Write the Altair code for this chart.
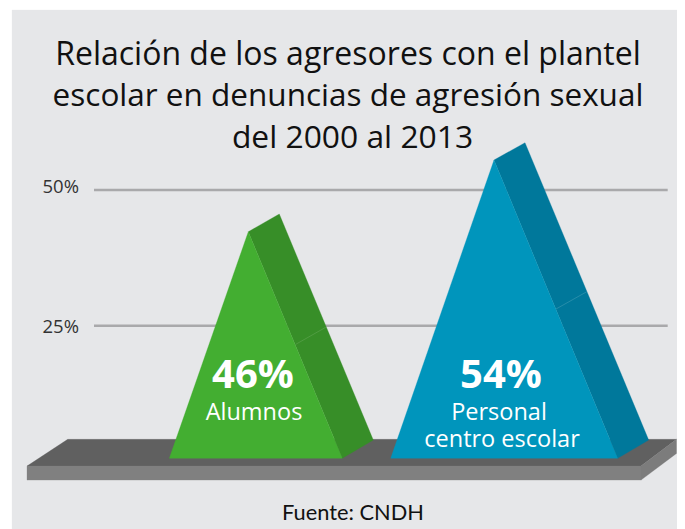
import altair as alt
import pandas as pd

# Scale units: x = page pixel position, y = percent
X_DOMAIN = [8, 677]
Y_DOMAIN = [-12.44, 83.53]

BG = "#e6e7e9"
panel_x = [12, 677]
panel_y = [-12.44, 83.16]

grid_values = [50, 25]
grid_label_y = [49.46, 23.65]
grid_x = [94, 667.7]

platform_top_x = [27, 67.7, 676.5, 641]
platform_top_y = [-0.85, 4.07, 4.07, -0.85]
platform_front_x = [27, 641, 641, 27]
platform_front_y = [-0.85, -0.85, -3.43, -3.43]
platform_side_x = [641, 676.5, 676.5, 641]
platform_side_y = [-0.85, 4.07, 1.49, -3.43]

green_front_x = [169.3, 248.3, 342.3]
green_front_y = [0.57, 42.32, 0.57]
green_side_x = [248.3, 279.3, 373.3, 342.3]
green_side_y = [42.32, 45.58, 3.94, 0.57]
green_seam_x = [295.7, 325.7]
green_seam_y = [21.57, 24.71]

blue_front_x = [390.7, 494, 617.7]
blue_front_y = [0.57, 55.53, 0.57]
blue_side_x = [494, 525, 648.7, 617.7]
blue_side_y = [55.53, 58.71, 3.94, 0.57]
blue_seam_x = [556, 586.7]
blue_seam_y = [28.08, 31.26]

title_lines = ["Relación de los agresores con el plantel",
               "escolar en denuncias de agresión sexual",
               "del 2000 al 2013"]
title_y = [73.03, 65.47, 57.74]
title_x = [348, 348, 352.5]
title_size = [32, 31.5, 31.8]

x_enc = lambda: alt.X("x:Q", scale=alt.Scale(domain=X_DOMAIN), axis=None)
y_enc = lambda: alt.Y("y:Q", scale=alt.Scale(domain=Y_DOMAIN), axis=None)


def shape(xs, ys, fill):
    df = pd.DataFrame({"x": xs, "y": ys, "i": range(len(xs))})
    return alt.Chart(df).mark_line(fill=fill, stroke=fill, strokeWidth=0.3, interpolate="linear-closed").encode(
        x=x_enc(), y=y_enc(), order="i:Q")


def line(xs, ys, color, width):
    df = pd.DataFrame({"x": xs, "y": ys, "i": range(len(xs))})
    return alt.Chart(df).mark_line(stroke=color, strokeWidth=width).encode(
        x=x_enc(), y=y_enc(), order="i:Q")


def label(x, y, text, size, color="#ffffff", weight="normal", font="Open Sans", align="center"):
    df = pd.DataFrame({"x": [x], "y": [y], "t": [text]})
    return alt.Chart(df).mark_text(fontSize=size, color=color, fontWeight=weight, font=font, align=align,
                                   baseline="alphabetic").encode(x=x_enc(), y=y_enc(), text="t:N")


panel = shape([panel_x[0], panel_x[1], panel_x[1], panel_x[0]],
              [panel_y[1], panel_y[1], panel_y[0], panel_y[0]], BG)

layers = [panel]
for g, ly in zip(grid_values, grid_label_y):
    layers.append(line(grid_x, [g, g], "#a9a9ab", 2.5))
    layers.append(label(79, ly, f"{g}%", 18.5, color="#333333", align="right"))

layers += [
    shape(platform_top_x, platform_top_y, "#606060"),
    shape(platform_front_x, platform_front_y, "#808080"),
    shape(platform_side_x, platform_side_y, "#7c7c7c"),
    shape(green_side_x, green_side_y, "#378e28"),
    shape(green_front_x, green_front_y, "#43ae31"),
    line(green_seam_x, green_seam_y, "#5fa552", 0.6),
    shape(blue_side_x, blue_side_y, "#00789b"),
    shape(blue_front_x, blue_front_y, "#0095bc"),
    line(blue_seam_x, blue_seam_y, "#3f9ab3", 0.6),
]

for t, y, x, s in zip(title_lines, title_y, title_x, title_size):
    layers.append(label(x, y, t, s, color="#111111"))

layers += [
    label(253, 13.52, "46%", 40, weight="bold"),
    label(254, 7.63, "Alumnos", 23.5),
    label(501, 13.52, "54%", 40, weight="bold"),
    label(499, 7.63, "Personal", 23.5),
    label(502, 2.71, "centro escolar", 23.5),
    label(353, -10.8, "Fuente: CNDH", 21.8, color="#111111", font="Lato"),
]

chart = alt.layer(*layers).properties(
    width=669, height=521, padding=0, background="#ffffff",
    autosize=alt.AutoSizeParams(type="none"),
).configure_view(stroke=None)

chart.save("out.html", embed_options={"renderer": "svg", "actions": False})
